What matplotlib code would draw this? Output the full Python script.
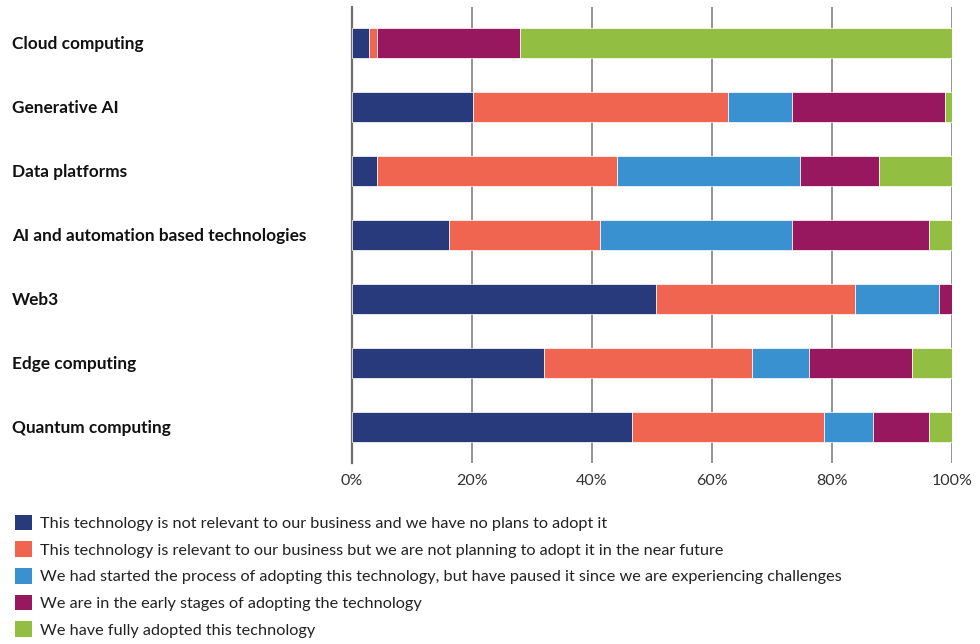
import numpy as np
import matplotlib
matplotlib.use('Agg')
from matplotlib import pyplot as plt
from matplotlib.patches import Patch

plt.rcParams['font.family'] = ['Lato', 'DejaVu Sans']

categories = ['Cloud computing', 'Generative AI', 'Data platforms',
              'AI and automation based technologies', 'Web3',
              'Edge computing', 'Quantum computing']

not_relevant = [2.9, 20.1, 4.1, 16.2, 50.7, 32.0, 46.7]
relevant_no_plan = [1.2, 42.6, 40.0, 25.1, 33.2, 34.7, 31.9]
paused = [0.0, 10.7, 30.6, 32.1, 13.9, 9.4, 8.2]
early_stages = [23.9, 25.5, 13.2, 22.7, 2.2, 17.2, 9.3]
fully_adopted = [72.0, 1.1, 12.1, 3.9, 0.0, 6.7, 3.9]

series_labels = [
    'This technology is not relevant to our business and we have no plans to adopt it',
    'This technology is relevant to our business but we are not planning to adopt it in the near future',
    'We had started the process of adopting this technology, but have paused it since we are experiencing challenges',
    'We are in the early stages of adopting the technology',
    'We have fully adopted this technology',
]
colors = ['#283a7c', '#f0654f', '#3a91d0', '#97185e', '#92bf41']
x_ticks = [0, 20, 40, 60, 80, 100]

fig = plt.figure(figsize=(9.8, 6.44), dpi=100)
ax = fig.add_axes([352/980, 1-463/644, 600/980, 456/644])

series = [not_relevant, relevant_no_plan, paused, early_stages, fully_adopted]
y = np.arange(len(categories))
left = np.zeros(len(categories))
for vals, col in zip(series, colors):
    vals = np.array(vals)
    ax.barh(y, vals, left=left, height=0.48, color=col, edgecolor='white',
            linewidth=0.5, zorder=3)
    left += vals

ax.set_xlim(0, 100)
ax.set_ylim(6.5625, -0.5625)
ax.set_xticks(x_ticks)
ax.set_xticklabels([f'{t}%' for t in x_ticks], fontsize=11.5, color='#333333')
ax.tick_params(axis='x', length=0, pad=8)
ax.set_yticks([])
for t in x_ticks[1:]:
    ax.axvline(t, color='#8a8a8a', lw=1.3, zorder=1)
for s in ['top', 'right', 'bottom']:
    ax.spines[s].set_visible(False)
ax.spines['left'].set_color('#6f6f6f')
ax.spines['left'].set_linewidth(1.6)

for yi, cat in zip(y, categories):
    fig.text(12/980, ax.transData.transform((0, yi))[1] / 644 - 0.002, cat,
             fontsize=12.4, fontweight='bold', color='#111111',
             ha='left', va='center')

handles = [Patch(facecolor=c, edgecolor='none') for c in colors]
fig.legend(handles, series_labels, loc='upper left',
           bbox_to_anchor=(8/980, 1-508/644), frameon=False,
           fontsize=11.7, handlelength=1.1, handleheight=1.1,
           handletextpad=0.5, labelspacing=0.64, borderaxespad=0,
           labelcolor='#222222')

fig.savefig('out.png', dpi=100)
